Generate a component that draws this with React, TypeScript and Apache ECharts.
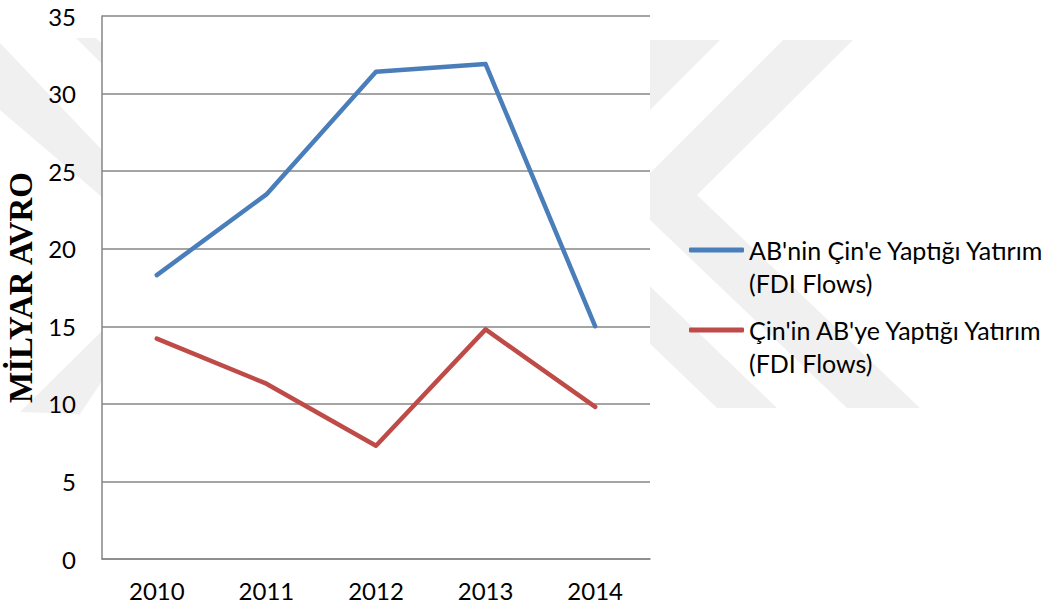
import React, { useEffect, useRef } from "react";
import * as echarts from "echarts";

const years = ["2010", "2011", "2012", "2013", "2014"];
const euToChina = [18.3, 23.5, 31.4, 31.9, 15.0];
const chinaToEu = [14.2, 11.3, 7.3, 14.8, 9.8];
const seriesNames = [
  "AB'nin Çin'e Yaptığı Yatırım\n(FDI Flows)",
  "Çin'in AB'ye Yaptığı Yatırım\n(FDI Flows)",
];
const yAxisTitle = "MİLYAR AVRO";

const WM = "#f0f0f0";
const watermark = [
  [[0, 43], [102, 150], [102, 197], [0, 110]],
  [[76, 38], [96, 38], [102, 44], [102, 64]],
  [[20, 412], [80, 414], [102, 381], [102, 331]],
  [[783, 40], [853, 40], [697, 195], [920, 408], [847, 408], [626, 197]],
  [[650, 40], [720, 40], [560, 200], [777, 408], [717, 408], [495, 195]],
];

const LH = 33;
const legendIconY = [250, 330];

export default function App() {
  const ref = useRef<HTMLDivElement>(null);
  useEffect(() => {
    const chart = echarts.init(ref.current!, null, { renderer: "svg" });
    const legendBase = {
      orient: "vertical",
      left: 689,
      padding: 0,
      itemWidth: 55,
      itemHeight: 5,
      icon: "roundRect",
      formatter: (n: string) => " \n" + n,
      textStyle: {
        fontFamily: "Lato",
        fontSize: 25,
        color: "#000",
        lineHeight: LH,
      },
    };
    chart.setOption({
      animation: false,
      backgroundColor: "#ffffff",
      textStyle: { fontFamily: "Lato" },
      graphic: watermark.map((pts) => ({
        type: "polygon",
        z: -10,
        silent: true,
        shape: { points: pts },
        style: { fill: WM },
      })),
      grid: {
        left: 102,
        right: 396,
        top: 16,
        bottom: 50,
        show: true,
        backgroundColor: "#ffffff",
        borderWidth: 0,
        containLabel: false,
        outerBoundsMode: "none",
      },
      legend: seriesNames.map((n, i) => ({
        ...legendBase,
        top: legendIconY[i] - 1.5 * LH,
        data: [n],
      })),
      xAxis: {
        type: "category",
        data: years,
        boundaryGap: true,
        axisLine: { lineStyle: { color: "#868686", width: 1.5 } },
        axisTick: { show: false },
        axisLabel: { color: "#000", fontSize: 24, margin: 19, fontFamily: "Lato" },
      },
      yAxis: {
        type: "value",
        min: 0,
        max: 35,
        interval: 5,
        name: yAxisTitle,
        nameLocation: "middle",
        nameGap: 61,
        nameRotate: 90,
        nameTextStyle: {
          fontFamily: "Liberation Serif",
          fontWeight: "bold",
          fontSize: 33,
          color: "#000",
        },
        axisLine: { show: true, lineStyle: { color: "#868686", width: 1.5 } },
        axisTick: { show: false },
        axisLabel: { color: "#000", fontSize: 24, margin: 26, fontFamily: "Lato" },
        splitLine: { lineStyle: { color: "#868686", width: 1.5 } },
      },
      series: [
        {
          name: seriesNames[0],
          type: "line",
          data: euToChina,
          symbol: "none",
          lineStyle: { color: "#4a7ebb", width: 4.5, cap: "round", join: "round" },
          itemStyle: { color: "#4a7ebb" },
        },
        {
          name: seriesNames[1],
          type: "line",
          data: chinaToEu,
          symbol: "none",
          lineStyle: { color: "#be4b48", width: 4.5, cap: "round", join: "round" },
          itemStyle: { color: "#be4b48" },
        },
      ],
    });
    return () => chart.dispose();
  }, []);
  return (
    <div
      ref={ref}
      style={{ position: "absolute", left: 0, top: 0, width: 1046, height: 609 }}
    />
  );
}
